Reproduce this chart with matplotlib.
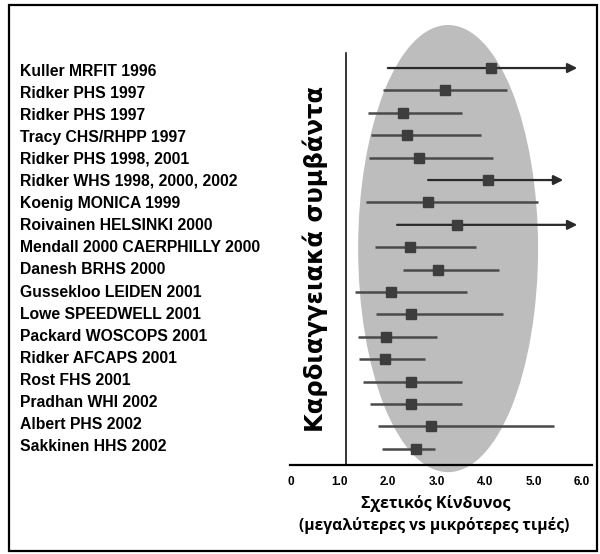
import matplotlib.pyplot as plt
from matplotlib.patches import Ellipse, Rectangle

# Studies (top to bottom)
studies = ["Kuller MRFIT 1996", "Ridker PHS 1997", "Ridker PHS 1997",
           "Tracy CHS/RHPP 1997", "Ridker PHS 1998, 2001",
           "Ridker WHS 1998, 2000, 2002", "Koenig MONICA 1999",
           "Roivainen HELSINKI 2000", "Mendall 2000 CAERPHILLY 2000",
           "Danesh BRHS 2000", "Gussekloo LEIDEN 2001", "Lowe SPEEDWELL 2001",
           "Packard WOSCOPS 2001", "Ridker AFCAPS 2001", "Rost FHS 2001",
           "Pradhan WHI 2002", "Albert PHS 2002", "Sakkinen HHS 2002"]
rr = [4.12, 3.18, 2.30, 2.39, 2.65, 4.07, 2.83, 3.42, 2.46, 3.04,
      2.06, 2.47, 1.95, 1.93, 2.47, 2.47, 2.89, 2.58]
lower = [1.94, 1.89, 1.58, 1.66, 1.61, 2.77, 1.55, 2.13, 1.74, 2.32,
         1.33, 1.75, 1.39, 1.41, 1.48, 1.63, 1.79, 1.88]
upper = [5.96, 4.46, 3.52, 3.92, 4.17, 5.67, 5.09, 5.96, 3.81, 4.28,
         3.63, 4.37, 3.01, 2.77, 3.52, 3.52, 5.42, 2.97]
# rows whose upper limit goes off the scale (drawn as arrows)
open_ended = [True, False, False, False, False, True, False, True, False,
              False, False, False, False, False, False, False, False, False]
xticks = [0, 1, 2, 3, 4, 5, 6]
xtick_labels = ["0", "1.0", "2.0", "3.0", "4.0", "5.0", "6.0"]

fig = plt.figure(figsize=(6, 5.54), dpi=100)
ax = fig.add_axes([0.4688, 0.1534, 0.5173, 0.8168])
ax.set_xlim(-0.2, 6.2)
ax.set_ylim(17.9, -2.3)
for s in ax.spines.values():
    s.set_visible(False)
ax.set_yticks([])

# grey ellipse behind the estimates
ax.add_patch(Ellipse((3.24, 8.06), 3.71, 19.96, facecolor="#bdbdbd",
                     edgecolor="none", zorder=0, clip_on=False))

# reference line and x axis line
ax.plot([1.14, 1.14], [-0.67, 17.72], color="black", lw=1.1, zorder=1)
ax.plot([-0.03, 6.2], [17.72, 17.72], color="black", lw=1.6, zorder=1,
        clip_on=False)

for i in range(len(studies)):
    if open_ended[i]:
        ax.annotate("", xy=(upper[i], i), xytext=(lower[i], i),
                    arrowprops=dict(arrowstyle="-|>", color="#2a2a2a",
                                    lw=1.6, mutation_scale=14), zorder=2)
    else:
        ax.plot([lower[i], upper[i]], [i, i], color="#4a4a4a", lw=1.8,
                 zorder=2, solid_capstyle="butt")
    ax.plot(rr[i], i, marker="s", markersize=7.5, color="#3d3d3d", zorder=3)
    fig.text(20 / 600, 1 - (71 + 22.1 * i) / 554, studies[i],
             family="Liberation Sans", fontweight="bold", fontsize=11.3,
             va="center", ha="left")

ax.set_xticks(xticks)
ax.set_xticklabels(xtick_labels, family="Liberation Sans", fontweight="bold",
                   fontsize=8.5)
ax.tick_params(axis="x", length=0, pad=5)

fig.text(315 / 600, 1 - 259 / 554, "Καρδιαγγειακά συμβάντα", rotation=90,
         family="DejaVu Sans", fontweight="bold", fontsize=17.5,
         ha="center", va="center")
fig.text(436 / 600, 1 - 503 / 554, "Σχετικός Κίνδυνος", family="Open Sans",
         fontweight="bold", fontsize=11.5, ha="center", va="center")
fig.text(434 / 600, 1 - 526 / 554, "(μεγαλύτερες vs μικρότερες τιμές)",
         family="Open Sans", fontweight="bold", fontsize=11.2,
         ha="center", va="center")

# outer frame
fig.patches.append(Rectangle((9 / 600, 3 / 554), 588 / 600, 546 / 554,
                             transform=fig.transFigure, fill=False,
                             edgecolor="black", lw=1.6))

fig.savefig("out.png", dpi=100)
